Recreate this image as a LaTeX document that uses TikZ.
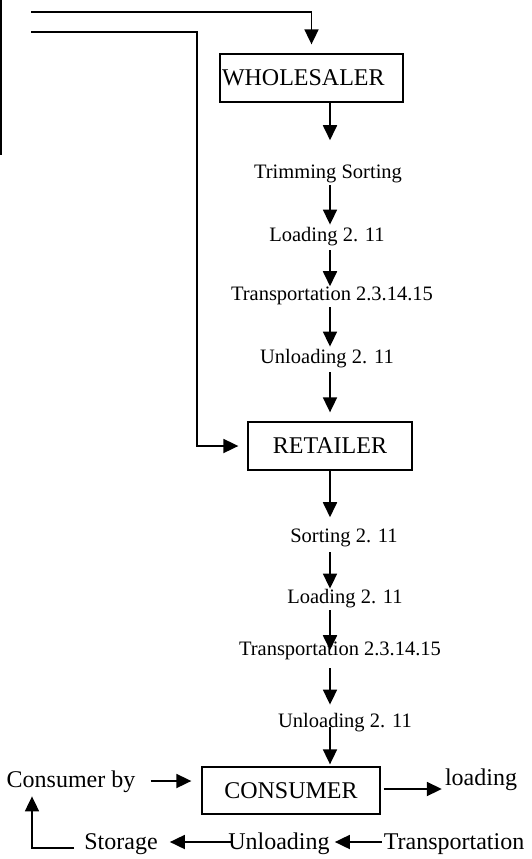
\documentclass[tikz,border=0pt]{standalone}
\usepackage{fontspec}
\setmainfont{Liberation Serif}
\usetikzlibrary{arrows.meta}
\begin{document}
\begin{tikzpicture}[x=1pt,y=-1pt,
  line/.style={line width=1.8pt},
  arr/.style={line width=1.8pt,-{Triangle[length=15pt,width=14pt]}},
  box/.style={draw,line width=1.3pt,inner sep=0pt,font=\fontsize{24}{28}\selectfont},
  lab/.style={inner sep=0pt,anchor=base,font=\fontsize{20.5}{24}\selectfont},
  blab/.style={inner sep=0pt,anchor=base,font=\fontsize{24}{28}\selectfont}]
\useasboundingbox (0,0) rectangle (532,859);
% boxes
\node[box,minimum width=183pt,minimum height=48pt,text width=179pt,align=left,inner xsep=2pt] (wh) at (311.5,78) {WHOLESALER};
\node[box,minimum width=164pt,minimum height=48pt] (ret) at (330,446) {RETAILER};
\node[box,minimum width=178pt,minimum height=47pt] (con) at (291,790.5) {CONSUMER};
% chain labels
\node[lab] (trim) at (328,178) {Trimming Sorting};
\node[lab] (ldA) at (327,241) {Loading 2. 11};
\node[lab] (trA) at (332,300) {Transportation 2.3.14.15};
\node[lab] (unA) at (327,363) {Unloading 2. 11};
\node[lab] (sort) at (344,542) {Sorting 2. 11};
\node[lab] (ldB) at (345,603) {Loading 2. 11};
\node[lab] (trB) at (340,655) {Transportation 2.3.14.15};
\node[lab] (unB) at (345,727) {Unloading 2. 11};
% bottom labels
\node[blab] (cby) at (71,787) {Consumer by};
\node[blab] (ldC) at (481,785) {loading};
\node[blab] (sto) at (121,849) {Storage};
\node[blab] (unC) at (279,849) {Unloading};
\node[blab] (trC) at (454,849) {Transportation};
% helper coordinates
\coordinate (cx) at (330,0);
\coordinate (topL) at (1,0);
\coordinate (botL) at (1,155);
\coordinate (s1) at (31,12);
\coordinate (s2) at (31,32);
\coordinate (k2) at (197,0);
\coordinate (yA) at (0,781);
\coordinate (yB) at (0,789);
\coordinate (yC) at (0,842);
\coordinate (yD) at (0,848);
\coordinate (xE) at (32,0);
% left incoming lines
\draw[line] (topL) -- (botL);
\draw[arr,shorten >=9pt] (s1) -| (wh.north);
\draw[arr,shorten >=9pt] (s2) -| (k2 |- ret.west) -- (ret.west);
% chain arrows
\draw[arr,shorten >=24pt] (cx |- wh.south) -- (cx |- trim.north);
\draw[arr,shorten <=2.5pt,shorten >=2pt] (cx |- trim.south) -- (cx |- ldA.north);
\draw[arr,shorten <=4.5pt] (cx |- ldA.south) -- (cx |- trA.north);
\draw[arr,shorten <=2.5pt,shorten >=2pt] (cx |- trA.south) -- (cx |- unA.north);
\draw[arr,shorten <=4.5pt,shorten >=9pt] (cx |- unA.south) -- (cx |- ret.north);
\draw[arr,shorten >=11pt] (cx |- ret.south) -- (cx |- sort.north);
\draw[arr,shorten <=5.5pt] (cx |- sort.south) -- (cx |- ldB.north);
\draw[arr,shorten <=2.5pt,shorten >=-9pt] (cx |- ldB.south) -- (cx |- trB.north);
\draw[arr,shorten <=8.5pt,shorten >=8pt] (cx |- trB.south) -- (cx |- unB.north);
\draw[arr,shorten <=-4.5pt,shorten >=2pt] (cx |- unB.south) -- (cx |- con.north);
% bottom arrows
\draw[arr,shorten <=15pt,shorten >=10pt] (cby.east |- yA) -- (con.west |- yA);
\draw[arr,shorten <=3pt,shorten >=3pt] (con.east |- yB) -- (ldC.west |- yB);
\draw[arr,shorten <=2pt,shorten >=5pt] (trC.west |- yC) -- (unC.east |- yC);
\draw[arr,shorten <=-3pt,shorten >=12pt] (unC.west |- yC) -- (sto.east |- yC);
\draw[arr,shorten <=10pt,shorten >=4pt] (sto.west |- yD) -| (xE |- cby.south);
\end{tikzpicture}
\end{document}
